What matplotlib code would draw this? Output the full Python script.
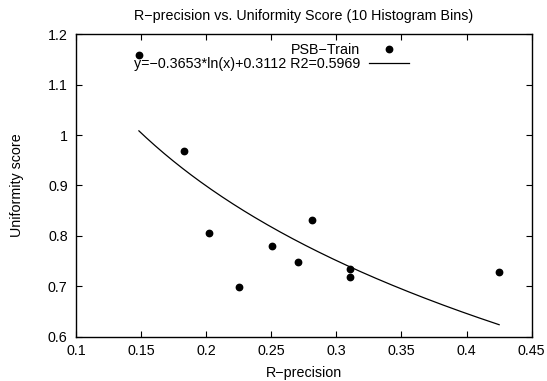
"""R-precision vs. uniformity score scatter with log fit (gnuplot-like look)."""

import matplotlib
matplotlib.use("Agg")
import matplotlib.pyplot as plt
import numpy as np

FS = 10.3

matplotlib.rcParams.update({
    "font.family": ["Liberation Sans", "DejaVu Sans"],
    "axes.unicode_minus": True,
    "font.size": FS,
})

# data
r_precision = [0.1483, 0.1827, 0.2021, 0.2249, 0.2504, 0.2702, 0.2809, 0.3107, 0.3107, 0.4250]
uniformity = [1.159, 0.969, 0.806, 0.698, 0.780, 0.749, 0.831, 0.734, 0.718, 0.729]

# logarithmic fit given in the legend
fit_a, fit_b, fit_r2 = -0.3653, 0.3112, 0.5969

x_ticks = [0.1, 0.15, 0.2, 0.25, 0.3, 0.35, 0.4, 0.45]
y_ticks = [0.6, 0.7, 0.8, 0.9, 1.0, 1.1, 1.2]
y_tick_labels = ["0.6", "0.7", "0.8", "0.9", "1", "1.1", "1.2"]

fig = plt.figure(figsize=(5.47, 3.81), dpi=100)
ax = fig.add_axes([0.139, 0.1163, 0.833, 0.7937])

ax.plot(r_precision, uniformity, "o", color="black", ms=4.6, mec="black",
        label="PSB\u2212Train", zorder=3)

xs = np.linspace(min(r_precision), max(r_precision), 200)
ax.plot(xs, fit_a * np.log(xs) + fit_b, "-", color="black", lw=0.9,
        label=f"y=\u2212{abs(fit_a):.4f}*ln(x)+{fit_b:.4f} R2={fit_r2:.4f}")

ax.set_xlim(0.1, 0.45)
ax.set_ylim(0.6, 1.2)
ax.set_xticks(x_ticks)
ax.set_xticklabels([f"{t:g}" for t in x_ticks])
ax.set_yticks(y_ticks)
ax.set_yticklabels(y_tick_labels)
ax.tick_params(direction="in", length=4.2, width=0.8, top=True, right=True,
               labelsize=FS, pad=6, colors="black")
ax.tick_params(axis="x", pad=5)
for sp in ax.spines.values():
    sp.set_linewidth(1.0)

ax.set_xlabel("R\u2212precision", fontsize=FS, labelpad=6)
ax.set_ylabel("Uniformity score", fontsize=FS, labelpad=17)
ax.set_title("R\u2212precision vs. Uniformity Score (10 Histogram Bins)",
             fontsize=FS, pad=10)

ax.legend(loc="upper right", bbox_to_anchor=(0.7314, 0.9700), frameon=False,
          markerfirst=False, borderpad=0, borderaxespad=0, handlelength=2.8,
          handletextpad=0.63, labelspacing=0.0, fontsize=FS)

fig.savefig("out.png", dpi=100)
